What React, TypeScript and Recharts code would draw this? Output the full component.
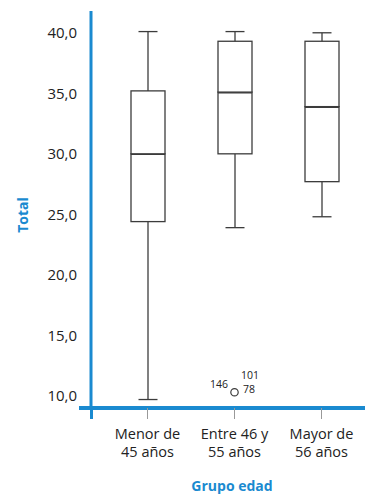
import { ComposedChart, Bar, Scatter, XAxis, YAxis } from 'recharts';

// age groups (\n = line break in tick label)
const groups = ['Menor de\n45 años', 'Entre 46 y\n55 años', 'Mayor de\n56 años'];

// box plot stats per group
const mins = [9.7, 23.9, 24.8];
const q1s = [24.4, 30.0, 27.7];
const medians = [30.0, 35.1, 33.9];
const q3s = [35.2, 39.3, 39.3];
const maxs = [40.1, 40.1, 40.0];

// outlier value per group and the case ids printed next to it
const outliers = [null, 10.3, null];
const outlierIds = ['146', '101', '78'];

const yTicks = [10, 15, 20, 25, 30, 35, 40];

const BLUE = '#1a8ad0';
const INK = '#3c3c3c';
const FONT = '"Open Sans", sans-serif';

const data = groups.map((g, i) => ({
    group: g,
    base: mins[i],
    lowWhisker: q1s[i] - mins[i],
    boxLow: medians[i] - q1s[i],
    boxHigh: q3s[i] - medians[i],
    highWhisker: maxs[i] - q3s[i],
    outlier: outliers[i],
}));

const CAP = 19;

const Empty = () => <g />;

const LowWhisker = ({ x, y, width, height }: any) => {
    const cx = x + width / 2;
    return (
        <g stroke={INK} strokeWidth={1.3}>
            <line x1={cx} x2={cx} y1={y} y2={y + height} />
            <line x1={cx - CAP / 2} x2={cx + CAP / 2} y1={y + height} y2={y + height} />
        </g>
    );
};

const HighWhisker = ({ x, y, width, height }: any) => {
    const cx = x + width / 2;
    return (
        <g stroke={INK} strokeWidth={1.3}>
            <line x1={cx} x2={cx} y1={y} y2={y + height} />
            <line x1={cx - CAP / 2} x2={cx + CAP / 2} y1={y} y2={y} />
        </g>
    );
};

// lower half of the box, its top edge is the median
const BoxLow = ({ x, y, width, height }: any) => (
    <g>
        <rect x={x} y={y} width={width} height={height} fill="#fff" stroke={INK} strokeWidth={1.3} />
        <line x1={x} x2={x + width} y1={y} y2={y} stroke={INK} strokeWidth={2.6} />
    </g>
);

const BoxHigh = ({ x, y, width, height }: any) => (
    <rect x={x} y={y} width={width} height={height} fill="#fff" stroke={INK} strokeWidth={1.3} />
);

const Outlier = ({ cx, cy, payload }: any) => {
    if (payload == null || payload.outlier == null) return <g />;
    return (
        <g fontFamily={FONT} fontSize={10.5} fill="#222">
            <circle cx={cx} cy={cy} r={3.7} fill="#fff" stroke={INK} strokeWidth={1.2} />
            <text x={cx - 6.5} y={cy - 4.5} textAnchor="end">{outlierIds[0]}</text>
            <text x={cx + 6.5} y={cy - 13.5}>{outlierIds[1]}</text>
            <text x={cx + 8.5} y={cy + 1}>{outlierIds[2]}</text>
        </g>
    );
};

const GroupTick = ({ x, y, payload }: any) => {
    const lines = String(payload.value).split('\n');
    return (
        <text x={x} textAnchor="middle" fontFamily={FONT} fontSize={14.5} fill="#222">
            {lines.map((l, i) => (
                <tspan key={i} x={x} y={y + 20 + i * 18}>{l}</tspan>
            ))}
        </text>
    );
};

const YTitle = ({ viewBox }: any) => {
    const vb = viewBox || { x: 0, y: 11, width: 91, height: 397 };
    const tx = vb.x + 28;
    const ty = vb.y + vb.height / 2 + 5.5;
    return (
        <text x={tx} y={ty} transform={`rotate(-90, ${tx}, ${ty})`} textAnchor="middle"
            fontFamily={FONT} fontWeight={700} fontSize={14} fill={BLUE}>
            Total
        </text>
    );
};

const XTitle = ({ viewBox }: any) => {
    const vb = viewBox || { x: 91, y: 408, width: 274, height: 91 };
    return (
        <text x={vb.x + vb.width / 2 + 4} y={vb.y + 83} textAnchor="middle"
            fontFamily={FONT} fontWeight={700} fontSize={14} fill={BLUE}>
            Grupo edad
        </text>
    );
};

export default function App() {
    return (
        <div style={{ position: 'relative', width: 374, height: 499, background: '#fff' }}>
            <style>{'body{margin:0}'}</style>
            <ComposedChart width={374} height={499} data={data}
                margin={{ top: 11, right: 9, left: 0, bottom: 0 }}>
                <XAxis dataKey="group" interval={0} padding={{ left: 13, right: 0 }} height={91}
                    axisLine={{ stroke: BLUE, strokeWidth: 4 }}
                    tickLine={{ stroke: '#999', strokeWidth: 1 }} tickSize={11} tickMargin={0}
                    tick={<GroupTick />} label={<XTitle />} />
                <YAxis type="number" domain={[9, 41.8]} allowDataOverflow ticks={yTicks} width={91}
                    axisLine={{ stroke: BLUE, strokeWidth: 3 }} tickLine={false} tickSize={0} tickMargin={14}
                    tick={{ fill: '#222', fontSize: 15, fontFamily: FONT }}
                    tickFormatter={(v: number) => v.toFixed(1).replace('.', ',')}
                    label={<YTitle />} />
                <Bar dataKey="base" stackId="box" barSize={34} shape={<Empty />} isAnimationActive={false} />
                <Bar dataKey="lowWhisker" stackId="box" barSize={34} shape={<LowWhisker />} isAnimationActive={false} />
                <Bar dataKey="boxLow" stackId="box" barSize={34} shape={<BoxLow />} isAnimationActive={false} />
                <Bar dataKey="boxHigh" stackId="box" barSize={34} shape={<BoxHigh />} isAnimationActive={false} />
                <Bar dataKey="highWhisker" stackId="box" barSize={34} shape={<HighWhisker />} isAnimationActive={false} />
                <Scatter dataKey="outlier" shape={<Outlier />} isAnimationActive={false} />
            </ComposedChart>
            {/* the blue axes overrun each other at the corner */}
            <div style={{ position: 'absolute', left: 79, top: 406, width: 13, height: 4, background: BLUE }} />
            <div style={{ position: 'absolute', left: 89.5, top: 408, width: 3, height: 11, background: BLUE }} />
        </div>
    );
}
